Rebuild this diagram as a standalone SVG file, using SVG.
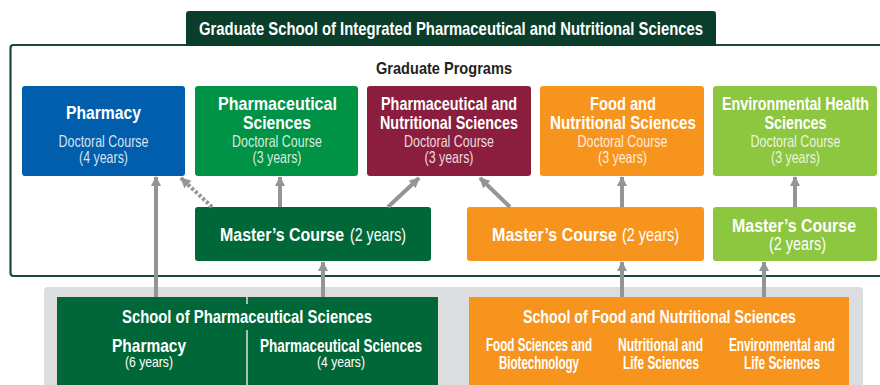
<svg xmlns="http://www.w3.org/2000/svg" width="880" height="385" viewBox="0 0 880 385">
<defs>
<style>
.t{font-family:"Liberation Sans",Arial,sans-serif;fill:#fff;text-anchor:middle}
.st{text-anchor:start}
.b{font-weight:bold}
.h{font-size:19px}
.s{font-size:16.5px;fill-opacity:0.85}
.m{font-size:19px}
.arr{stroke:#939598;stroke-width:4;fill:none}
</style>
<marker id="ah" viewBox="0 0 10 10" refX="9" refY="5" markerWidth="2.6" markerHeight="2.6" orient="auto" markerUnits="strokeWidth">
<path d="M0,0 L10,5 L0,10 z" fill="#939598"/>
</marker>
</defs>
<rect width="880" height="385" fill="#fff"/>
<g id="frame">
<rect x="10.5" y="45" width="880" height="231" rx="3" fill="none" stroke="#1d4a35" stroke-width="2.2"/>
</g>
<g id="title">
<path d="M186,46 V14 a3,3 0 0 1 3,-3 H713 a3,3 0 0 1 3,3 V46 z" fill="#0b3d2b"/>
<text class="t b" x="451" y="35" font-size="19" textLength="504" lengthAdjust="spacingAndGlyphs">Graduate School of Integrated Pharmaceutical and Nutritional Sciences</text>
</g>
<text class="t b" x="444" y="74" font-size="16.5" style="fill:#231f20" textLength="136" lengthAdjust="spacingAndGlyphs">Graduate Programs</text>
<g id="band"><rect x="44" y="287" width="819" height="110" rx="4" fill="#dcdddf"/></g>
<g id="d-pharmacy">
<rect x="22" y="86" width="163" height="90" rx="3" fill="#005eac"/>
<text class="t b h" x="103.5" y="119" textLength="75" lengthAdjust="spacingAndGlyphs">Pharmacy</text>
<text class="t s" x="103.5" y="147" textLength="90" lengthAdjust="spacingAndGlyphs">Doctoral Course</text>
<text class="t s" x="103.5" y="163" textLength="49" lengthAdjust="spacingAndGlyphs">(4 years)</text>
</g>
<g id="d-pharmsci">
<rect x="195" y="86" width="163" height="90" rx="3" fill="#009245"/>
<text class="t b h" x="277.5" y="110" textLength="119" lengthAdjust="spacingAndGlyphs">Pharmaceutical</text>
<text class="t b h" x="277" y="129" textLength="68" lengthAdjust="spacingAndGlyphs">Sciences</text>
<text class="t s" x="277" y="147" textLength="90" lengthAdjust="spacingAndGlyphs">Doctoral Course</text>
<text class="t s" x="277" y="163" textLength="49" lengthAdjust="spacingAndGlyphs">(3 years)</text>
</g>
<g id="d-pharmnutr">
<rect x="367" y="86" width="164" height="90" rx="3" fill="#8b1e3e"/>
<text class="t b h" x="449" y="110" textLength="136" lengthAdjust="spacingAndGlyphs">Pharmaceutical and</text>
<text class="t b h" x="449" y="129" textLength="138" lengthAdjust="spacingAndGlyphs">Nutritional Sciences</text>
<text class="t s" x="449" y="147" textLength="90" lengthAdjust="spacingAndGlyphs">Doctoral Course</text>
<text class="t s" x="449" y="163" textLength="49" lengthAdjust="spacingAndGlyphs">(3 years)</text>
</g>
<g id="d-food">
<rect x="540" y="86" width="164" height="90" rx="3" fill="#f7941e"/>
<text class="t b h" x="623" y="110" textLength="66" lengthAdjust="spacingAndGlyphs">Food and</text>
<text class="t b h" x="623" y="129" textLength="146" lengthAdjust="spacingAndGlyphs">Nutritional Sciences</text>
<text class="t s" x="622.5" y="147" textLength="90" lengthAdjust="spacingAndGlyphs">Doctoral Course</text>
<text class="t s" x="622.5" y="163" textLength="49" lengthAdjust="spacingAndGlyphs">(3 years)</text>
</g>
<g id="d-env">
<rect x="713" y="86" width="164" height="90" rx="3" fill="#8dc63f"/>
<text class="t b h" x="795.5" y="110" textLength="147" lengthAdjust="spacingAndGlyphs">Environmental Health</text>
<text class="t b h" x="795.5" y="129" textLength="62" lengthAdjust="spacingAndGlyphs">Sciences</text>
<text class="t s" x="795.5" y="147" textLength="90" lengthAdjust="spacingAndGlyphs">Doctoral Course</text>
<text class="t s" x="795.5" y="163" textLength="49" lengthAdjust="spacingAndGlyphs">(3 years)</text>
</g>
<g id="m-green">
<rect x="195" y="207" width="236" height="54" rx="3" fill="#006838"/>
<text class="t b m st" x="220" y="241" textLength="124" lengthAdjust="spacingAndGlyphs">Master’s Course</text>
<text class="t m st" x="350" y="241" textLength="56" lengthAdjust="spacingAndGlyphs">(2 years)</text>
</g>
<g id="m-orange">
<rect x="467" y="207" width="237" height="54" rx="3" fill="#f7941e"/>
<text class="t b m st" x="492" y="241" textLength="125" lengthAdjust="spacingAndGlyphs">Master’s Course</text>
<text class="t m st" x="622" y="241" textLength="57" lengthAdjust="spacingAndGlyphs">(2 years)</text>
</g>
<g id="m-lime">
<rect x="713" y="207" width="164" height="54" rx="3" fill="#8dc63f"/>
<text class="t b" x="794" y="232" font-size="18" textLength="124" lengthAdjust="spacingAndGlyphs">Master’s Course</text>
<text class="t" x="797.5" y="250" font-size="18" textLength="57" lengthAdjust="spacingAndGlyphs">(2 years)</text>
</g>
<g id="s-pharm">
<rect x="57" y="297" width="381" height="95" fill="#006838"/>
<line x1="247" y1="297" x2="247" y2="304" stroke="#dcdddf" stroke-width="1.5"/>
<line x1="247" y1="330" x2="247" y2="392" stroke="#dcdddf" stroke-width="1.5"/>
<text class="t b m" x="247" y="323" textLength="250" lengthAdjust="spacingAndGlyphs">School of Pharmaceutical Sciences</text>
<text class="t b" x="149" y="352" font-size="18.5" textLength="74" lengthAdjust="spacingAndGlyphs">Pharmacy</text>
<text class="t" x="149" y="367" font-size="14.5" textLength="48" lengthAdjust="spacingAndGlyphs">(6 years)</text>
<text class="t b" x="341" y="352" font-size="18.5" textLength="162" lengthAdjust="spacingAndGlyphs">Pharmaceutical Sciences</text>
<text class="t" x="341" y="367" font-size="14.5" textLength="48" lengthAdjust="spacingAndGlyphs">(4 years)</text>
</g>
<g id="s-food">
<rect x="469" y="297" width="380" height="95" fill="#f7941e"/>
<text class="t b m" x="659.5" y="323" textLength="273" lengthAdjust="spacingAndGlyphs">School of Food and Nutritional Sciences</text>
<text class="t b" x="539" y="351" font-size="18.5" textLength="106" lengthAdjust="spacingAndGlyphs">Food Sciences and</text>
<text class="t b" x="539" y="369" font-size="18.5" textLength="80" lengthAdjust="spacingAndGlyphs">Biotechnology</text>
<text class="t b" x="660.5" y="351" font-size="18.5" textLength="85" lengthAdjust="spacingAndGlyphs">Nutritional and</text>
<text class="t b" x="661" y="369" font-size="18.5" textLength="76" lengthAdjust="spacingAndGlyphs">Life Sciences</text>
<text class="t b" x="782" y="351" font-size="18.5" textLength="106" lengthAdjust="spacingAndGlyphs">Environmental and</text>
<text class="t b" x="782" y="369" font-size="18.5" textLength="76" lengthAdjust="spacingAndGlyphs">Life Sciences</text>
</g>
<g id="connectors">
<line class="arr" x1="156" y1="297" x2="156" y2="177" marker-end="url(#ah)"/>
<line class="arr" x1="212" y1="207" x2="181" y2="178" stroke-dasharray="3,2" marker-end="url(#ah)"/>
<line class="arr" x1="280" y1="207" x2="280" y2="177" marker-end="url(#ah)"/>
<line class="arr" x1="388" y1="207" x2="419" y2="178" marker-end="url(#ah)"/>
<line class="arr" x1="510" y1="207" x2="480" y2="178" marker-end="url(#ah)"/>
<line class="arr" x1="622" y1="207" x2="622" y2="177" marker-end="url(#ah)"/>
<line class="arr" x1="795" y1="207" x2="795" y2="177" marker-end="url(#ah)"/>
<line class="arr" x1="323" y1="297" x2="323" y2="262" marker-end="url(#ah)"/>
<line class="arr" x1="622" y1="297" x2="622" y2="262" marker-end="url(#ah)"/>
<line class="arr" x1="764" y1="297" x2="764" y2="262" marker-end="url(#ah)"/>
</g>
</svg>
